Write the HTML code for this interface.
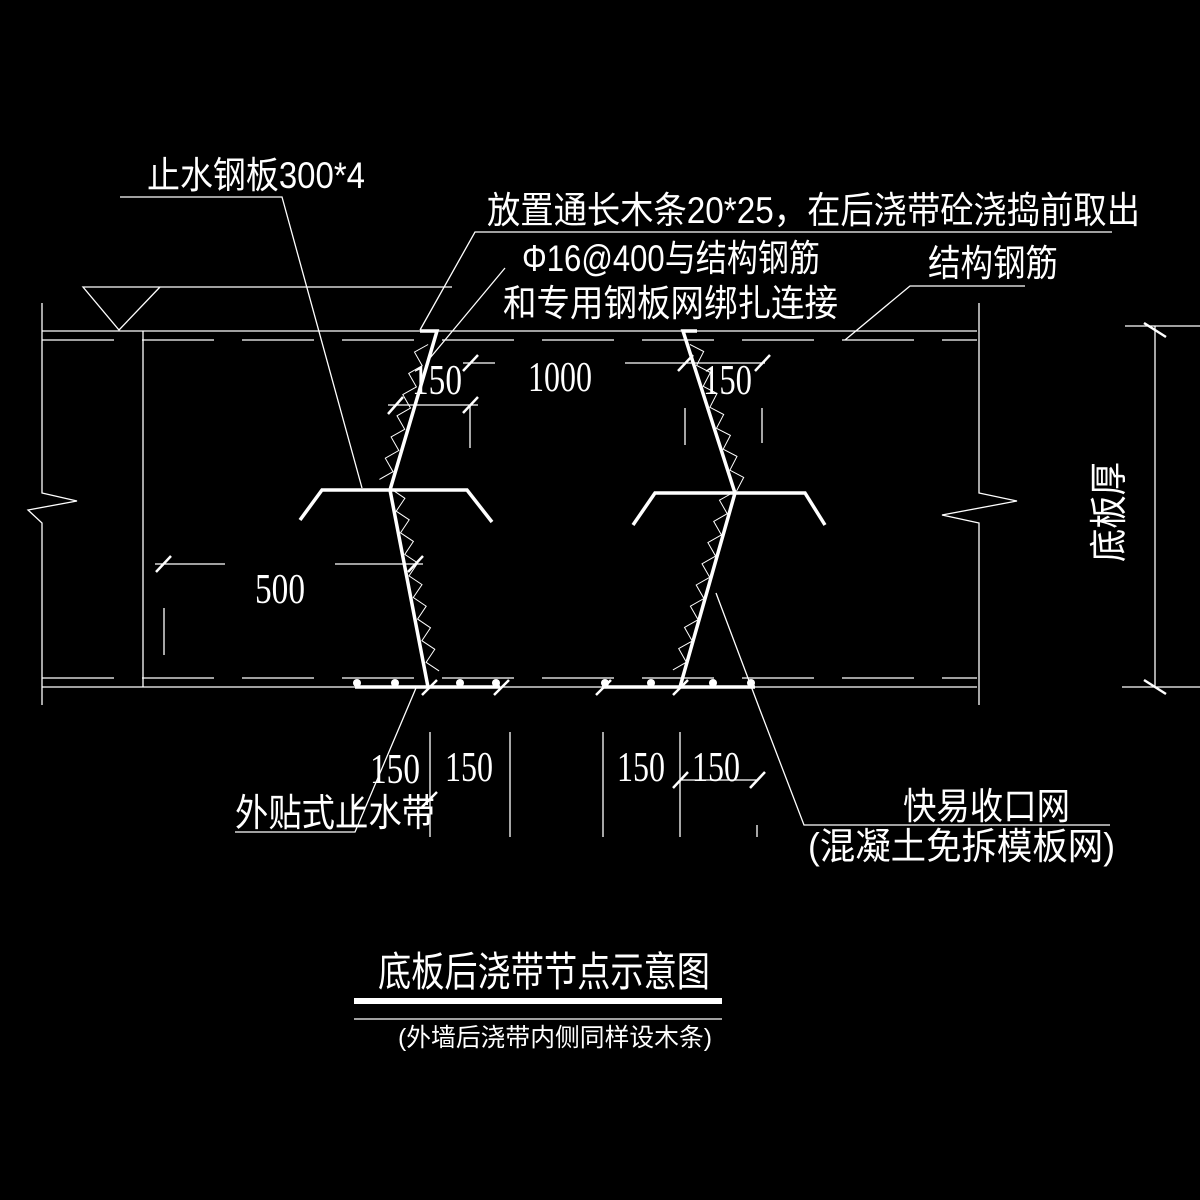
<!DOCTYPE html>
<html><head><meta charset="utf-8"><style>
html,body{margin:0;padding:0;background:#000;}
svg{display:block;}
text{fill:#fff;font-family:"Liberation Sans","Noto Sans CJK SC",sans-serif;}
.n{font-family:"Liberation Serif","Noto Serif CJK SC",serif;}
</style></head><body>
<svg id="s" width="1200" height="1200" viewBox="0 0 1200 1200" xmlns="http://www.w3.org/2000/svg">
<rect width="1200" height="1200" fill="#000"/>
<g stroke="#fff" stroke-width="1.3" fill="none">
<line x1="42" y1="331" x2="977" y2="331"/>
<line x1="42" y1="687" x2="977" y2="687"/>
<line x1="42" y1="340" x2="977" y2="340" stroke-dasharray="72,28"/>
<line x1="42" y1="678" x2="977" y2="678" stroke-dasharray="72,28"/>
<polyline points="42,303 42,493 77,501 28,510 42,523 42,705"/>
<polyline points="979,303 979,493 1017,501 942,515 979,523 979,705"/>
<line x1="143" y1="331" x2="143" y2="687"/>
<polyline points="452,287 83,287 119,330 160,287"/>
<line x1="1155" y1="326" x2="1155" y2="687"/>
<line x1="1125" y1="326" x2="1200" y2="326"/>
<line x1="1122" y1="687" x2="1200" y2="687"/>
<polyline points="120,197 282,197 362,488"/>
<polyline points="1112,232 475,232 420,330"/>
<line x1="505" y1="268" x2="430" y2="358"/>
<polyline points="1025,286 910,286 845,340"/>
<polyline points="235,832 355,832 416,688"/>
<polyline points="716,593 760,710 804,825 1110,825"/>
<line x1="388" y1="405" x2="478" y2="405"/>
<line x1="470" y1="405" x2="470" y2="448"/>
<line x1="463" y1="363" x2="495" y2="363"/>
<line x1="625" y1="363" x2="765" y2="363"/>
<line x1="685" y1="408" x2="685" y2="445"/>
<line x1="762" y1="408" x2="762" y2="443"/>
<line x1="155" y1="564" x2="225" y2="564"/>
<line x1="335" y1="564" x2="423" y2="564"/>
<line x1="164" y1="608" x2="164" y2="655"/>
<line x1="430" y1="732" x2="430" y2="837"/>
<line x1="510" y1="732" x2="510" y2="837"/>
<line x1="603" y1="732" x2="603" y2="837"/>
<line x1="680" y1="732" x2="680" y2="837"/>
<line x1="757" y1="825" x2="757" y2="837"/>
<line x1="682" y1="780" x2="757" y2="780"/>
<line x1="354" y1="1019" x2="722" y2="1019"/>
</g>
<g stroke="#fff" stroke-width="2.5">
<line x1="388" y1="414" x2="403" y2="397"/><line x1="463" y1="413" x2="478" y2="397"/>
<line x1="463" y1="371" x2="478" y2="355"/>
<line x1="678" y1="371" x2="693" y2="355"/><line x1="755" y1="371" x2="770" y2="355"/>
<line x1="156" y1="572" x2="171" y2="556"/><line x1="408" y1="572" x2="423" y2="556"/>
<line x1="1144" y1="323" x2="1166" y2="337"/><line x1="1144" y1="680" x2="1166" y2="694"/>
<line x1="422" y1="695" x2="437" y2="680"/><line x1="494" y1="695" x2="509" y2="680"/>
<line x1="596" y1="695" x2="611" y2="680"/><line x1="673" y1="695" x2="688" y2="680"/>
<line x1="673" y1="788" x2="688" y2="772"/><line x1="750" y1="788" x2="765" y2="772"/>
<line x1="354" y1="807" x2="363" y2="797"/><line x1="422" y1="807" x2="437" y2="792"/>
</g>
<g stroke="#fff" stroke-width="3.5" fill="none">
<polyline points="420,331 437,331 390,490 428,687"/>
<polyline points="697,331 683,331 735,493 680,687"/>
<polyline points="300,520 322,490 467,490 492,522"/>
<polyline points="633,525 655,493 805,493 825,525"/>
<line x1="355" y1="687" x2="500" y2="687"/>
<line x1="602" y1="687" x2="755" y2="687"/>
</g>
<g fill="#fff">
<circle cx="357" cy="683" r="4"/><circle cx="395" cy="683" r="4"/><circle cx="460" cy="683" r="4"/><circle cx="496" cy="683" r="4"/>
<circle cx="605" cy="683" r="4"/><circle cx="651" cy="683" r="4"/><circle cx="713" cy="683" r="4"/><circle cx="751" cy="683" r="4"/>
</g>
<rect x="354" y="998" width="368" height="6" fill="#fff"/>
<g id="zz" stroke="#fff" stroke-width="1" fill="none"></g>
<text x="147" y="188" font-size="37" textLength="218" lengthAdjust="spacingAndGlyphs">止水钢板300*4</text>
<text x="487" y="223" font-size="37" textLength="653" lengthAdjust="spacingAndGlyphs">放置通长木条20*25，在后浇带砼浇捣前取出</text>
<text x="522" y="271" font-size="37" textLength="298" lengthAdjust="spacingAndGlyphs">Φ16@400与结构钢筋</text>
<text x="503" y="316" font-size="37" textLength="335" lengthAdjust="spacingAndGlyphs">和专用钢板网绑扎连接</text>
<text x="928" y="276" font-size="37" textLength="130" lengthAdjust="spacingAndGlyphs">结构钢筋</text>
<text class="n" x="412" y="394" font-size="42" textLength="50" lengthAdjust="spacingAndGlyphs">150</text>
<text class="n" x="528" y="391" font-size="42" textLength="64" lengthAdjust="spacingAndGlyphs">1000</text>
<text class="n" x="703" y="394" font-size="42" textLength="49" lengthAdjust="spacingAndGlyphs">150</text>
<text class="n" x="255" y="603" font-size="42" textLength="50" lengthAdjust="spacingAndGlyphs">500</text>
<text class="n" x="370" y="783" font-size="42" textLength="50" lengthAdjust="spacingAndGlyphs">150</text>
<text class="n" x="445" y="781" font-size="42" textLength="48" lengthAdjust="spacingAndGlyphs">150</text>
<text class="n" x="617" y="781" font-size="42" textLength="48" lengthAdjust="spacingAndGlyphs">150</text>
<text class="n" x="692" y="781" font-size="42" textLength="48" lengthAdjust="spacingAndGlyphs">150</text>
<text x="235" y="826" font-size="38" textLength="200" lengthAdjust="spacingAndGlyphs">外贴式止水带</text>
<text x="903" y="819" font-size="37" textLength="167" lengthAdjust="spacingAndGlyphs">快易收口网</text>
<text x="808" y="859" font-size="37" textLength="307" lengthAdjust="spacingAndGlyphs">(混凝土免拆模板网)</text>
<text transform="translate(1122,562) rotate(-90)" font-size="38" textLength="100" lengthAdjust="spacingAndGlyphs">底板厚</text>
<text x="378" y="986" font-size="41" textLength="332" lengthAdjust="spacingAndGlyphs">底板后浇带节点示意图</text>
<text x="398" y="1046" font-size="25" textLength="314" lengthAdjust="spacingAndGlyphs">(外墙后浇带内侧同样设木条)</text>
</svg>
<script>
(function(){
var g=document.getElementById('zz');
function zig(x1,y1,x2,y2,side){
 var dx=x2-x1,dy=y2-y1,L=Math.sqrt(dx*dx+dy*dy),ux=dx/L,uy=dy/L;
 var nx=-uy*side,ny=ux*side;var step=11,amp=13;var pts=[];
 for(var t=0,i=0;t<=L;t+=step,i++){
  var a=(i%2)?amp:2;
  pts.push((x1+ux*t+nx*a).toFixed(1)+','+(y1+uy*t+ny*a).toFixed(1));
 }
 var p=document.createElementNS('http://www.w3.org/2000/svg','polyline');
 p.setAttribute('points',pts.join(' '));g.appendChild(p);
}
zig(430,345,390,490,1);
zig(390,490,428,682,-1);
zig(688,345,735,493,-1);
zig(735,493,683,682,1);
})();
</script>
</body></html>
